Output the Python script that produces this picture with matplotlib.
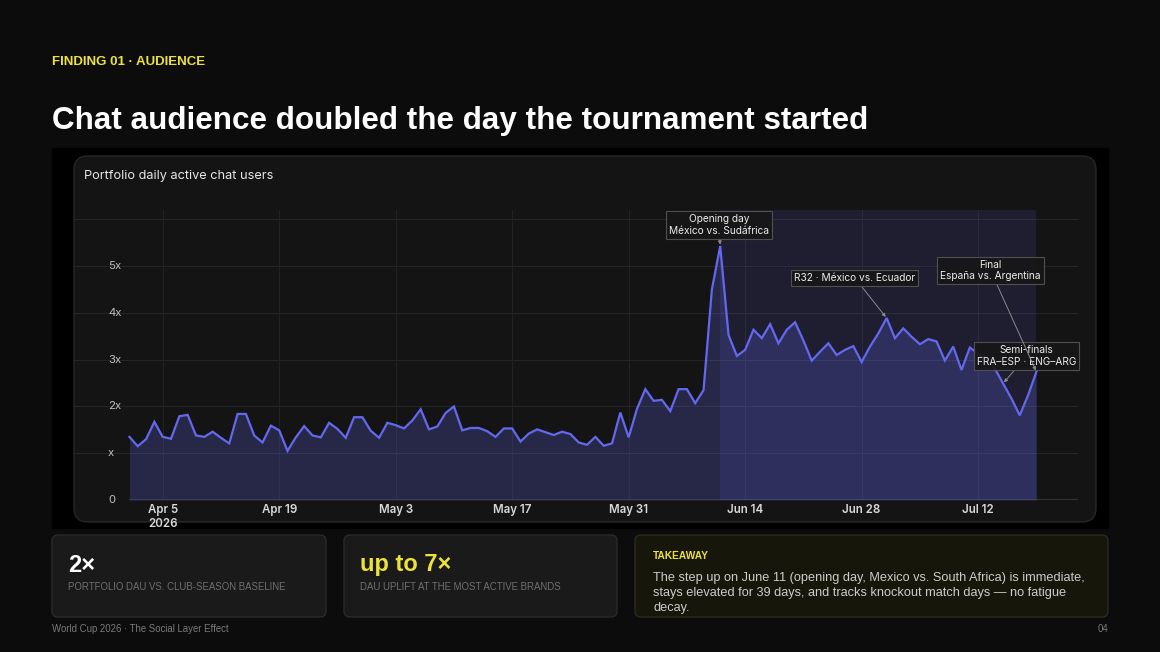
import matplotlib
matplotlib.use("Agg")
import matplotlib.pyplot as plt
import matplotlib.dates as mdates
from matplotlib.patches import FancyBboxPatch, Rectangle
import matplotlib.transforms as mtransforms
import pandas as pd

# daily active chat users, multiple of club-season baseline (Apr 1 - Jul 19 2026)
dau = [
    1.35, 1.15, 1.30, 1.67, 1.35, 1.31, 1.79, 1.82, 1.38, 1.35,
    1.46, 1.33, 1.21, 1.84, 1.84, 1.38, 1.23, 1.59, 1.49, 1.05,
    1.34, 1.58, 1.38, 1.34, 1.65, 1.52, 1.33, 1.77, 1.77, 1.48,
    1.33, 1.65, 1.60, 1.53, 1.70, 1.94, 1.51, 1.57, 1.86, 2.00,
    1.49, 1.54, 1.54, 1.47, 1.35, 1.53, 1.53, 1.25, 1.42, 1.51,
    1.45, 1.39, 1.46, 1.41, 1.23, 1.18, 1.35, 1.16, 1.21, 1.87,
    1.34, 1.95, 2.37, 2.12, 2.14, 1.90, 2.37, 2.37, 2.07, 2.35,
    4.50, 5.43, 3.53, 3.08, 3.21, 3.64, 3.46, 3.76, 3.35, 3.64,
    3.80, 3.41, 2.98, 3.17, 3.35, 3.10, 3.21, 3.29, 2.95, 3.28,
    3.56, 3.89, 3.46, 3.67, 3.49, 3.33, 3.44, 3.39, 2.98, 3.28,
    2.78, 3.26, 3.13, 3.03, 2.81, 2.49, 2.17, 1.81, 2.24, 2.74,
]
start_date = "2026-04-01"
tournament = ("2026-06-11", "2026-07-19")

tick_dates = ["2026-04-05", "2026-04-19", "2026-05-03", "2026-05-17",
              "2026-05-31", "2026-06-14", "2026-06-28", "2026-07-12"]
tick_labels = ["Apr 5\n2026", "Apr 19", "May 3", "May 17",
               "May 31", "Jun 14", "Jun 28", "Jul 12"]
y_ticks = [0, 1, 2, 3, 4, 5]
y_labels = ["0", "x", "2x", "3x", "4x", "5x"]

event_dates = ["2026-06-11", "2026-07-01", "2026-07-15", "2026-07-19"]
event_labels = ["Opening day\nMéxico vs. Sudáfrica",
                "R32 · México vs. Ecuador",
                "Semi-finals\nFRA–ESP · ENG–ARG",
                "Final\nEspaña vs. Argentina"]
event_offsets = [(-1, 15), (-23, 29), (17, 20), (-33, 73)]  # points

dates = pd.date_range(start_date, periods=len(dau), freq="D")

SANS = ["Liberation Sans", "DejaVu Sans"]
UI = ["Inter", "DejaVu Sans"]
YELLOW = "#ece23a"
INDIGO = "#6468ee"

fig = plt.figure(figsize=(11.6, 6.52), dpi=100, facecolor="#0c0c0c")

# slide layer in pixel coordinates
bg = fig.add_axes([0, 0, 1, 1], zorder=0)
bg.set_xlim(0, 1160)
bg.set_ylim(652, 0)
bg.axis("off")

bg.add_patch(Rectangle((52, 148), 1056, 380, color="#000000"))
bg.add_patch(FancyBboxPatch((74, 156), 1022, 366,
                            boxstyle="round,pad=0,rounding_size=14",
                            fc="#141414", ec="#272727", lw=1))
for x0, w, fc, ec in [(52, 274, "#1a1a1a", "#2a2a2a"),
                      (344, 273, "#1a1a1a", "#2a2a2a"),
                      (635, 473, "#17160b", "#2c2b1c")]:
    bg.add_patch(FancyBboxPatch((x0, 535), w, 82,
                                boxstyle="round,pad=0,rounding_size=6",
                                fc=fc, ec=ec, lw=1))

bg.text(52, 62, "FINDING 01 · AUDIENCE", color=YELLOW, fontsize=9.5,
        fontweight="bold", family=SANS, va="center")
bg.text(52, 121, "Chat audience doubled the day the tournament started",
        color="white", fontsize=22.6, fontweight="bold", family=SANS, va="center")
bg.text(84, 176, "Portfolio daily active chat users", color="#e6e6e6",
        fontsize=9.2, family=UI, va="center")

bg.text(68, 565, "2×", color="white", fontsize=17, fontweight="bold",
        family=SANS, va="center")
bg.text(68, 587, "PORTFOLIO DAU VS. CLUB-SEASON BASELINE", color="#6f6f6f",
        fontsize=6.9, family=SANS, va="center")
bg.text(360, 565, "up to 7×", color=YELLOW, fontsize=17, fontweight="bold",
        family=SANS, va="center")
bg.text(360, 587, "DAU UPLIFT AT THE MOST ACTIVE BRANDS", color="#6f6f6f",
        fontsize=6.9, family=SANS, va="center")
bg.text(653, 556, "TAKEAWAY", color=YELLOW, fontsize=7.3, fontweight="bold",
        family=SANS, va="center")
bg.text(653, 593,
        "The step up on June 11 (opening day, Mexico vs. South Africa) is immediate,\n"
        "stays elevated for 39 days, and tracks knockout match days — no fatigue\n"
        "decay.",
        color="#cccccc", fontsize=9.2, family=SANS, va="center", linespacing=1.33)

bg.text(52, 629, "World Cup 2026 · The Social Layer Effect", color="#7a7a7a",
        fontsize=6.9, family=SANS, va="center")
bg.text(1108, 629, "04", color="#7a7a7a", fontsize=6.9, family=SANS,
        va="center", ha="right")

# chart
ax = fig.add_axes([74 / 1160, 1 - 500 / 652, 1004 / 1160, 290 / 652], zorder=2)
ax.set_facecolor("none")
t0 = mdates.date2num(dates[0])
ax.set_xlim(t0 - 6.66, t0 + 114)
ax.set_ylim(0, 6.2)
for s in ax.spines.values():
    s.set_visible(False)

for y in range(1, 7):
    ax.axhline(y, color="#252525", lw=0.8, zorder=0)
for d in tick_dates:
    ax.axvline(pd.Timestamp(d), color="#222222", lw=0.8, zorder=0)
ax.hlines(0, dates[0], mdates.num2date(t0 + 114), color="#3a3a3a", lw=1.2, zorder=1)

ax.axvspan(pd.Timestamp(tournament[0]), pd.Timestamp(tournament[1]),
           color=INDIGO, alpha=0.13, lw=0, zorder=1)
ax.fill_between(dates, dau, 0, color=INDIGO, alpha=0.24, lw=0, zorder=2)
ax.plot(dates, dau, color=INDIGO, lw=1.6, zorder=3, solid_joinstyle="miter")

ax.set_xticks([pd.Timestamp(d) for d in tick_dates])
ax.set_xticklabels(tick_labels, color="#d8d8d8", fontsize=8.3,
                   fontweight="semibold", family=UI, linespacing=1.15)
ax.tick_params(axis="x", length=0, pad=3)
for lab in ax.get_xticklabels():
    lab.set_verticalalignment("top")
ax.set_yticks([])

ytrans = mtransforms.blended_transform_factory(ax.transAxes, ax.transData)
for v, lab in zip(y_ticks, y_labels):
    ax.text(34 / 1004, v, lab, transform=ytrans, color="#bdbdbd", fontsize=8.2,
            family=UI, va="center", ha="left")

for d, lab, off in zip(event_dates, event_labels, event_offsets):
    i = list(dates).index(pd.Timestamp(d))
    ax.annotate(lab, xy=(dates[i], dau[i]), xytext=off, textcoords="offset points",
                ha="center", va="center", color="#ececec", fontsize=7.3,
                family=UI, zorder=5, linespacing=1.2,
                bbox=dict(boxstyle="square,pad=0.3", fc="#171717", ec="#555555",
                          lw=0.8, alpha=0.92),
                arrowprops=dict(arrowstyle="-|>", color="#8a8a8a", lw=0.7,
                                mutation_scale=5, shrinkA=0, shrinkB=1))

fig.savefig("out.png", dpi=100, facecolor=fig.get_facecolor())
